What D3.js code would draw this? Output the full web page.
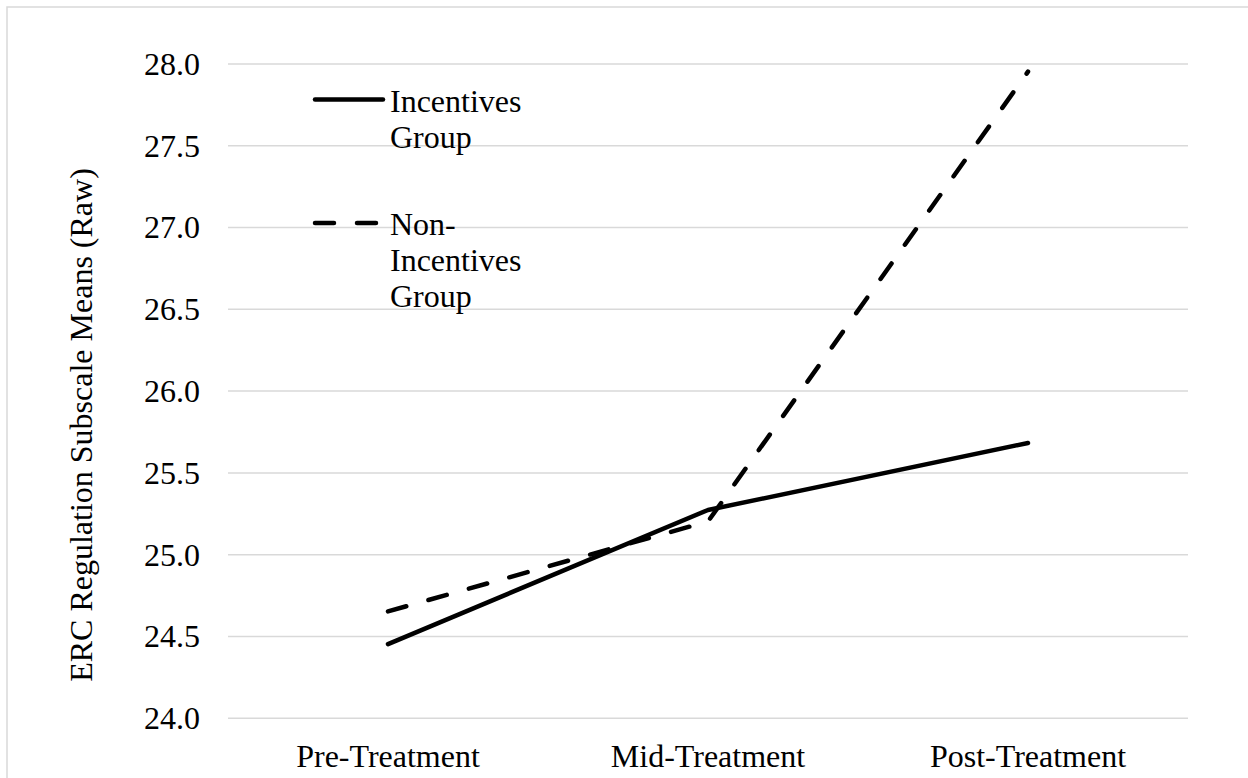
<!DOCTYPE html>
<html>
<head>
<meta charset="utf-8">
<script src="https://cdn.jsdelivr.net/npm/d3@7"></script>
<style>
  html, body { margin: 0; padding: 0; background: #fff; }
  svg text { font-family: "Liberation Serif", "Times New Roman", serif !important; }
</style>
</head>
<body>
<svg id="chart" width="1248" height="778"></svg>
<script>
// Time points and group means
const phases = ["Pre-Treatment", "Mid-Treatment", "Post-Treatment"];
const incentivesMeans = [24.45, 25.27, 25.68];
const nonIncentivesMeans = [24.65, 25.20, 27.95];
const yTicks = [24.0, 24.5, 25.0, 25.5, 26.0, 26.5, 27.0, 27.5, 28.0];
const seriesNames = [["Incentives", "Group"], ["Non-", "Incentives", "Group"]];

const SERIF = '"Liberation Serif", "Times New Roman", serif';
const svg = d3.select("#chart");
const W = 1248, H = 778;
const plot = { left: 228, right: 1188, top: 63.5, bottom: 717.7 };

// Outer chart frame
svg.append("rect")
  .attr("x", 7).attr("y", 7)
  .attr("width", W).attr("height", H)
  .attr("fill", "none").attr("stroke", "#d9d9d9").attr("stroke-width", 1.5);

const x = d3.scaleBand().domain(phases).range([plot.left, plot.right]);
const y = d3.scaleLinear().domain([24, 28]).range([plot.bottom, plot.top]);
const cx = d => x(d) + x.bandwidth() / 2;

// Value axis with horizontal gridlines
const yAxis = svg.append("g")
  .attr("transform", `translate(${plot.left},0)`)
  .call(d3.axisLeft(y).tickValues(yTicks).tickFormat(d3.format(".1f"))
    .tickSize(-(plot.right - plot.left)).tickPadding(28));
yAxis.attr("font-family", null).attr("font-size", null);
yAxis.select(".domain").remove();
yAxis.selectAll(".tick line").attr("stroke", "#d9d9d9").attr("stroke-width", 1.5);
yAxis.selectAll(".tick text")
  .style("font-family", SERIF).style("font-size", "32px")
  .attr("fill", "#000")
  .attr("dy", "0.34em");

// Category axis labels
const xAxis = svg.append("g")
  .attr("transform", `translate(0,${plot.bottom})`)
  .call(d3.axisBottom(x).tickSize(0).tickPadding(26));
xAxis.attr("font-family", null).attr("font-size", null);
xAxis.select(".domain").remove();
xAxis.selectAll(".tick text")
  .style("font-family", SERIF).style("font-size", "32px")
  .attr("fill", "#000")
  .attr("dy", "0.72em");

// Axis title
svg.append("text")
  .attr("transform", `translate(92,${425}) rotate(-90)`)
  .attr("text-anchor", "middle")
  .style("font-family", SERIF).style("font-size", "32px")
  .attr("fill", "#000")
  .text("ERC Regulation Subscale Means (Raw)");

const line = d3.line().x((d, i) => cx(phases[i])).y(d => y(d));

// Non-incentives group (dashed)
svg.append("path")
  .datum(nonIncentivesMeans)
  .attr("d", line)
  .attr("fill", "none").attr("stroke", "#000").attr("stroke-width", 4.5)
  .attr("stroke-linecap", "round").attr("stroke-linejoin", "round")
  .attr("stroke-dasharray", "19,23");

// Incentives group (solid)
svg.append("path")
  .datum(incentivesMeans)
  .attr("d", line)
  .attr("fill", "none").attr("stroke", "#000").attr("stroke-width", 4.5)
  .attr("stroke-linecap", "round").attr("stroke-linejoin", "round");

// Legend
const legendItems = [
  { names: seriesNames[0], dash: null, y: 99.5 },
  { names: seriesNames[1], dash: "19,23", y: 223 }
];
const lg = svg.append("g");
legendItems.forEach(item => {
  lg.append("line")
    .attr("x1", 315).attr("x2", 383)
    .attr("y1", item.y).attr("y2", item.y)
    .attr("stroke", "#000").attr("stroke-width", 4.5)
    .attr("stroke-linecap", "round")
    .attr("stroke-dasharray", item.dash);
  const t = lg.append("text")
    .attr("x", 390).attr("y", item.y + 12)
    .style("font-family", SERIF).style("font-size", "32px")
    .attr("fill", "#000");
  item.names.forEach((n, i) => {
    t.append("tspan").attr("x", 390).attr("dy", i === 0 ? 0 : 36).text(n);
  });
});
</script>
</body>
</html>
